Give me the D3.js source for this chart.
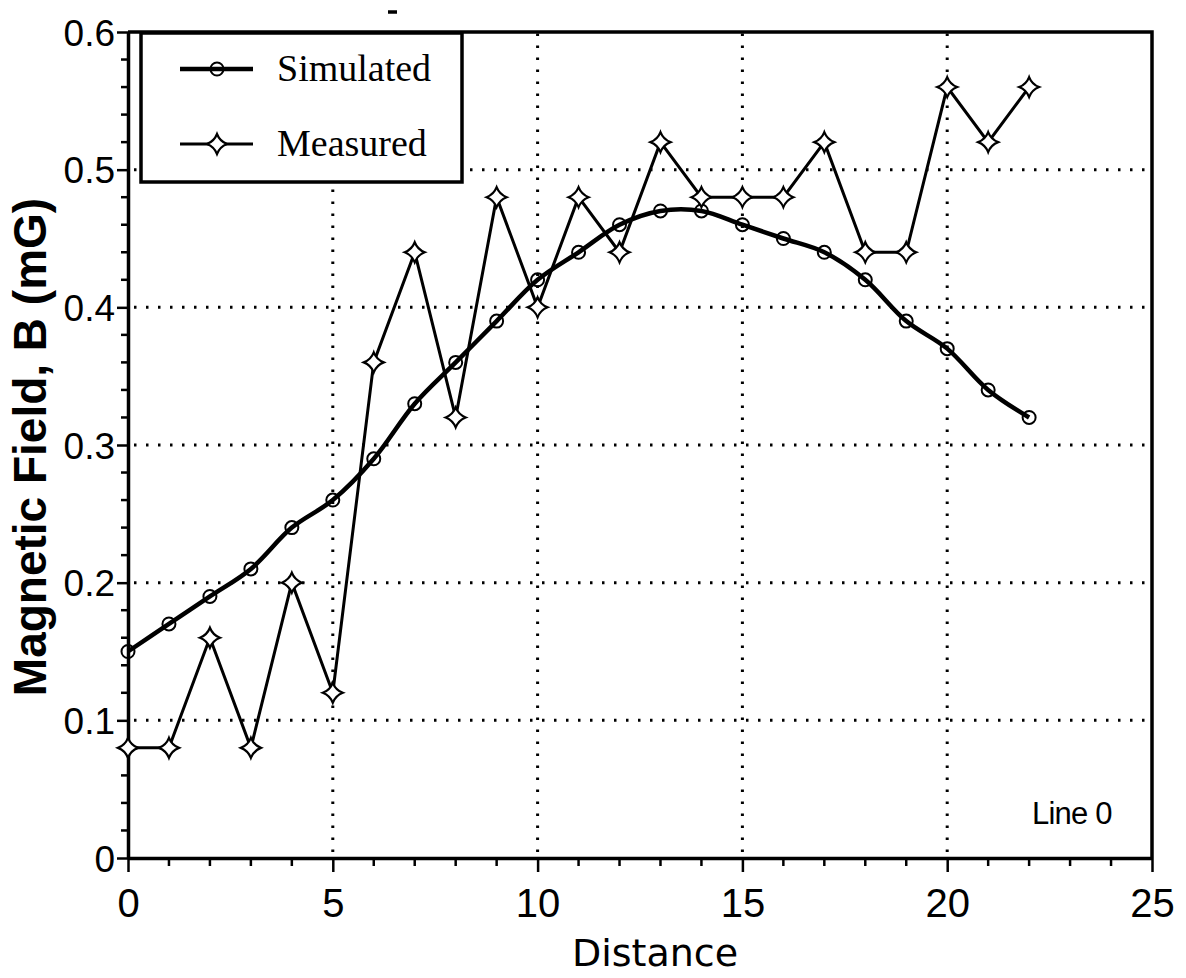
<!DOCTYPE html>
<html>
<head>
<meta charset="utf-8">
<script src="https://cdn.jsdelivr.net/npm/d3@7"></script>
<style>
  body { margin: 0; background: #fff; }
  svg { display: block; }
  .tick-label { font-family: "Liberation Sans", sans-serif; font-size: 37px; fill: #000; }
  .x-label { font-size: 40px; }
</style>
</head>
<body>
<div id="chart"></div>
<script>
// distance index, readings from the plot
var distance = d3.range(0, 23);
var simulated = [0.15, 0.17, 0.19, 0.21, 0.24, 0.26, 0.29, 0.33, 0.36, 0.39, 0.42, 0.44,
  0.46, 0.47, 0.47, 0.46, 0.45, 0.44, 0.42, 0.39, 0.37, 0.34, 0.32];
var measured = [0.08, 0.08, 0.16, 0.08, 0.20, 0.12, 0.36, 0.44, 0.32, 0.48, 0.40, 0.48,
  0.44, 0.52, 0.48, 0.48, 0.48, 0.52, 0.44, 0.44, 0.56, 0.52, 0.56];
var xTicks = [0, 5, 10, 15, 20, 25];
var yTicks = [0, 0.1, 0.2, 0.3, 0.4, 0.5, 0.6];
var seriesNames = ["Simulated", "Measured"];

var W = 1186, H = 978;
var margin = {left: 128, right: 34, top: 32, bottom: 120};

var svg = d3.select("#chart").append("svg").attr("width", W).attr("height", H);

var x = d3.scaleLinear().domain([0, 25]).range([margin.left, W - margin.right]);
var y = d3.scaleLinear().domain([0, 0.6]).range([H - margin.bottom, margin.top]);

// dotted grid
var grid = svg.append("g").attr("stroke", "#000").attr("stroke-width", 3)
  .attr("stroke-dasharray", "2.5,9.5").attr("stroke-linecap", "butt");
grid.selectAll(".vg").data([5, 10, 15, 20]).enter().append("line")
  .attr("x1", d => x(d)).attr("x2", d => x(d))
  .attr("y1", y(0) - 6).attr("y2", y(0.6));
grid.selectAll(".hg").data([0.1, 0.2, 0.3, 0.4, 0.5]).enter().append("line")
  .attr("x1", x(0) + 6).attr("x2", x(25))
  .attr("y1", d => y(d)).attr("y2", d => y(d));

// axes
var xAxis = d3.axisBottom(x).tickValues(xTicks).tickSizeInner(14).tickSizeOuter(0).tickPadding(8);
var yAxis = d3.axisLeft(y).tickValues(yTicks).tickSizeInner(11).tickSizeOuter(0).tickPadding(2)
  .tickFormat(d => d === 0 ? "0" : d3.format(".1f")(d));

var gx = svg.append("g").attr("transform", "translate(0," + y(0) + ")").call(xAxis);
var gy = svg.append("g").attr("transform", "translate(" + x(0) + ",0)").call(yAxis);
[gx, gy].forEach(g => {
  g.select(".domain").attr("stroke-width", 3.5);
  g.selectAll(".tick line").attr("stroke-width", 2.5);
  g.selectAll(".tick text").attr("class", "tick-label");
});
gx.selectAll(".tick text").classed("x-label", true).attr("y", 59).attr("dy", 0);
gy.selectAll(".tick text").attr("dy", "0.36em");

// minor ticks
svg.append("g").selectAll("line").data(d3.range(0, 26).filter(d => d % 5 !== 0)).enter().append("line")
  .attr("x1", d => x(d)).attr("x2", d => x(d))
  .attr("y1", y(0)).attr("y2", y(0) + 8)
  .attr("stroke", "#000").attr("stroke-width", 2.5);
svg.append("g").selectAll("line").data(d3.range(0, 31).filter(d => d % 5 !== 0).map(d => d * 0.02)).enter().append("line")
  .attr("x1", x(0) - 7).attr("x2", x(0))
  .attr("y1", d => y(d)).attr("y2", d => y(d))
  .attr("stroke", "#000").attr("stroke-width", 2.5);

// frame top and right
svg.append("path")
  .attr("d", "M" + x(0) + "," + y(0.6) + "H" + x(25) + "V" + y(0))
  .attr("fill", "none").attr("stroke", "#000").attr("stroke-width", 3.5);

// series lines
var lineSim = d3.line().x((d, i) => x(distance[i])).y(d => y(d)).curve(d3.curveCatmullRom);
var lineMeas = d3.line().x((d, i) => x(distance[i])).y(d => y(d));

svg.append("path").datum(measured).attr("d", lineMeas)
  .attr("fill", "none").attr("stroke", "#000").attr("stroke-width", 3).attr("stroke-linejoin", "miter");
svg.append("path").datum(simulated).attr("d", lineSim)
  .attr("fill", "none").attr("stroke", "#000").attr("stroke-width", 4.5);

// 4-point star marker
var star = function (cx, cy, r) {
  var k = r * 0.28;
  return "M" + cx + "," + (cy - r) + "Q" + (cx + k) + "," + (cy - k) + " " + (cx + r) + "," + cy +
    "Q" + (cx + k) + "," + (cy + k) + " " + cx + "," + (cy + r) +
    "Q" + (cx - k) + "," + (cy + k) + " " + (cx - r) + "," + cy +
    "Q" + (cx - k) + "," + (cy - k) + " " + cx + "," + (cy - r) + "Z";
};

// circles are open: the line shows through them
svg.append("g").selectAll("circle").data(simulated).enter().append("circle")
  .attr("cx", (d, i) => x(distance[i])).attr("cy", d => y(d)).attr("r", 6.5)
  .attr("fill", "none").attr("stroke", "#000").attr("stroke-width", 2);
svg.append("g").selectAll("path").data(measured).enter().append("path")
  .attr("d", (d, i) => star(x(distance[i]), y(d), 10))
  .attr("fill", "#fff").attr("stroke", "#000").attr("stroke-width", 2.2);

// legend
var lg = svg.append("g");
lg.append("rect").attr("x", 141).attr("y", 33).attr("width", 321).attr("height", 149)
  .attr("fill", "#fff").attr("stroke", "#000").attr("stroke-width", 3.5);
seriesNames.forEach((name, i) => {
  var ly = 69 + i * 75;
  lg.append("line").attr("x1", 180).attr("x2", 253).attr("y1", ly).attr("y2", ly)
    .attr("stroke", "#000").attr("stroke-width", i === 0 ? 4.5 : 3);
  if (i === 0) {
    lg.append("circle").attr("cx", 217).attr("cy", ly).attr("r", 6.5)
      .attr("fill", "none").attr("stroke", "#000").attr("stroke-width", 2);
  } else {
    lg.append("path").attr("d", star(217, ly, 10))
      .attr("fill", "#fff").attr("stroke", "#000").attr("stroke-width", 2.2);
  }
  lg.append("text").attr("x", 277).attr("y", ly + 12)
    .attr("font-family", "Liberation Serif, serif").attr("font-size", 38)
    .text(name);
});

// stray mark at top
svg.append("line").attr("x1", 388).attr("x2", 397).attr("y1", 12).attr("y2", 12)
  .attr("stroke", "#000").attr("stroke-width", 3.5);

// axis titles
svg.append("text").attr("x", 655).attr("y", 966)
  .attr("text-anchor", "middle").attr("font-family", "DejaVu Sans, sans-serif")
  .attr("font-size", 38).text("Distance");
svg.append("text").attr("transform", "translate(46," + (y(0.3) + 2) + ") rotate(-90)")
  .attr("text-anchor", "middle").attr("font-family", "Liberation Sans, sans-serif")
  .attr("font-weight", "bold").attr("font-size", 46).text("Magnetic Field, B (mG)");

svg.append("text").attr("x", 1032).attr("y", 824)
  .attr("font-family", "Liberation Sans, sans-serif").attr("font-size", 31)
  .attr("letter-spacing", -0.8).text("Line 0");
</script>
</body>
</html>
